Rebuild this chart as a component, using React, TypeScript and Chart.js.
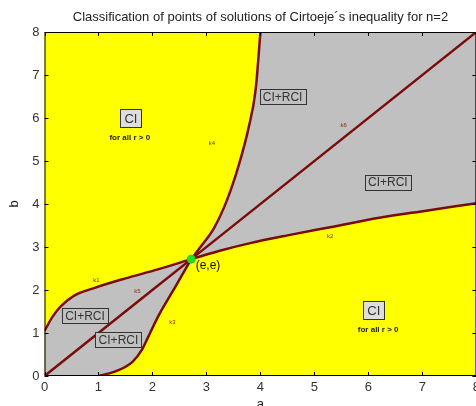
import React, { useEffect, useRef } from "react";
import { Chart, registerables } from "chart.js";

Chart.register(...registerables);

// ---- data (a, b) ----
const k1A = [0, 0.15, 0.3, 0.55, 0.93, 1.5, 2.1, 2.718];
const k1B = [1.05, 1.38, 1.62, 1.87, 2.05, 2.27, 2.48, 2.718];

const k2A = [2.718, 3.3, 3.81, 4.5, 5.29, 6.2, 7.1, 8];
const k2B = [2.718, 2.93, 3.09, 3.27, 3.46, 3.68, 3.85, 4.02];

const k3A = [1.0, 1.3, 1.63, 1.8, 1.91, 2.12, 2.37, 2.55, 2.718];
const k3B = [0, 0.1, 0.33, 0.6, 0.88, 1.42, 1.96, 2.35, 2.718];

const k4A = [2.718, 2.92, 3.14, 3.38, 3.6, 3.78, 3.91, 4.0];
const k4B = [2.718, 3.05, 3.44, 4.09, 4.91, 5.77, 6.65, 8.0];

const diagA = [0, 2.718, 8];
const diagB = [0, 2.718, 8];

const eePointA = [2.718];
const eePointB = [2.718];

const TITLE = "Classification of points of solutions of Cirtoeje\u00b4s inequality for n=2";

// boxed region labels
const boxTexts = ["CI", "CI+RCI", "CI+RCI", "CI", "CI+RCI", "CI+RCI"];
const boxA = [1.6, 4.41, 6.36, 6.1, 0.75, 1.37];
const boxB = [6.0, 6.49, 4.51, 1.53, 1.41, 0.84];

// "for all r > 0" notes
const noteTexts = ["for all r > 0", "for all r > 0"];
const noteA = [1.58, 6.18];
const noteB = [5.53, 1.07];

// curve names
const curveNames = ["k1", "k2", "k3", "k4", "k5", "k6"];
const curveNameA = [0.96, 5.29, 2.37, 3.1, 1.72, 5.54];
const curveNameB = [2.22, 3.24, 1.24, 5.41, 1.98, 5.82];

const eeLabel = "(e,e)";
const eeLabelA = [2.8];
const eeLabelB = [2.56];

const YELLOW = "#ffff00";
const GREY = "#c0c0c0";
const MAROON = "#7a0c0c";
const FONT = "'Liberation Sans', Arial, sans-serif";

const pts = (xs: number[], ys: number[]) => xs.map((x, i) => ({ x, y: ys[i] }));

const lineOf = (chart: any, label: string) => {
  const idx = chart.data.datasets.findIndex((d: any) => d.label === label);
  const line = chart.getDatasetMeta(idx).dataset;
  line.updateControlPoints(chart.chartArea, "x");
  return line;
};

const overlay = {
  id: "overlay",
  beforeDraw(chart: any) {
    const { ctx, chartArea: ca } = chart;
    ctx.save();
    ctx.fillStyle = YELLOW;
    ctx.fillRect(ca.left, ca.top, ca.right - ca.left, ca.bottom - ca.top);
    ctx.restore();
  },
  beforeDatasetsDraw(chart: any) {
    const { ctx, chartArea: ca, scales } = chart;
    const xs = scales.x;
    const ys = scales.y;
    const k1 = lineOf(chart, "k1");
    const k2 = lineOf(chart, "k2");
    const k3 = lineOf(chart, "k3");
    const k4 = lineOf(chart, "k4");
    const xE = xs.getPixelForValue(k2A[0]);
    const x0 = xs.getPixelForValue(0);
    const x8 = xs.getPixelForValue(8);
    const xK3 = xs.getPixelForValue(k3A[0]);

    // upper grey region: above k2 and right of k4
    ctx.save();
    ctx.beginPath();
    k2.path(ctx);
    ctx.lineTo(x8, ca.top - 2);
    ctx.lineTo(xE, ca.top - 2);
    ctx.closePath();
    ctx.clip();
    ctx.beginPath();
    k4.path(ctx);
    ctx.lineTo(x8 + 2, ca.top - 2);
    ctx.lineTo(x8 + 2, ca.bottom);
    ctx.lineTo(xE, ca.bottom);
    ctx.closePath();
    ctx.clip();
    ctx.fillStyle = GREY;
    ctx.fillRect(ca.left, ca.top, ca.right - ca.left, ca.bottom - ca.top);
    ctx.restore();

    // lower grey region: below k1 and left of k3
    ctx.save();
    ctx.beginPath();
    k1.path(ctx);
    ctx.lineTo(xE, ca.bottom + 2);
    ctx.lineTo(x0 - 2, ca.bottom + 2);
    ctx.lineTo(x0 - 2, ys.getPixelForValue(k1B[0]));
    ctx.closePath();
    ctx.clip();
    ctx.beginPath();
    k3.path(ctx);
    ctx.lineTo(xE, ca.top);
    ctx.lineTo(x0 - 2, ca.top);
    ctx.lineTo(x0 - 2, ca.bottom + 2);
    ctx.lineTo(xK3, ca.bottom + 2);
    ctx.closePath();
    ctx.clip();
    ctx.fillStyle = GREY;
    ctx.fillRect(ca.left, ca.top, ca.right - ca.left, ca.bottom - ca.top);
    ctx.restore();
  },
  afterDatasetsDraw(chart: any) {
    const { ctx, chartArea: ca, scales } = chart;
    const xs = scales.x;
    const ys = scales.y;
    ctx.save();

    // curve names
    ctx.font = "6px " + FONT;
    ctx.fillStyle = "#8a2a00";
    ctx.textAlign = "center";
    ctx.textBaseline = "middle";
    curveNames.forEach((t, i) => {
      ctx.fillText(t, xs.getPixelForValue(curveNameA[i]), ys.getPixelForValue(curveNameB[i]));
    });

    // boxed labels
    boxTexts.forEach((t, i) => {
      const cx = xs.getPixelForValue(boxA[i]);
      const cy = ys.getPixelForValue(boxB[i]);
      const isCI = t === "CI";
      ctx.font = (isCI ? "13px " : "12px ") + FONT;
      const w = Math.round(ctx.measureText(t).width + (isCI ? 8 : 6));
      const h = isCI ? 18 : 15;
      const left = Math.round(cx - w / 2) + 0.5;
      const top = Math.round(cy - h / 2) + 0.5;
      ctx.fillStyle = isCI ? "#dedede" : GREY;
      ctx.fillRect(left, top, w, h);
      ctx.strokeStyle = "#333";
      ctx.lineWidth = 1;
      ctx.strokeRect(left, top, w, h);
      ctx.fillStyle = "#333";
      ctx.textAlign = "center";
      ctx.textBaseline = "middle";
      ctx.fillText(t, cx, cy + 1);
    });

    // notes
    ctx.font = "bold 8px " + FONT;
    ctx.fillStyle = "#222";
    noteTexts.forEach((t, i) => {
      ctx.fillText(t, xs.getPixelForValue(noteA[i]), ys.getPixelForValue(noteB[i]));
    });

    // (e,e)
    ctx.font = "12px " + FONT;
    ctx.fillStyle = "#111";
    ctx.textAlign = "left";
    ctx.fillText(eeLabel, xs.getPixelForValue(eeLabelA[0]), ys.getPixelForValue(eeLabelB[0]));

    // frame and inward ticks
    ctx.strokeStyle = "#000";
    ctx.lineWidth = 1;
    ctx.beginPath();
    ctx.rect(ca.left + 0.5, ca.top + 0.5, ca.right - ca.left - 1, ca.bottom - ca.top - 1);
    xs.ticks.forEach((t: any) => {
      const px = Math.round(xs.getPixelForValue(t.value)) + 0.5;
      ctx.moveTo(px, ca.bottom);
      ctx.lineTo(px, ca.bottom - 4);
      ctx.moveTo(px, ca.top);
      ctx.lineTo(px, ca.top + 4);
    });
    ys.ticks.forEach((t: any) => {
      const py = Math.round(ys.getPixelForValue(t.value)) + 0.5;
      ctx.moveTo(ca.left, py);
      ctx.lineTo(ca.left + 4, py);
      ctx.moveTo(ca.right, py);
      ctx.lineTo(ca.right - 4, py);
    });
    ctx.stroke();
    ctx.restore();
  },
};

export default function App() {
  const ref = useRef<HTMLCanvasElement | null>(null);

  useEffect(() => {
    const canvas = ref.current;
    if (!canvas) return;
    const lineDs = (label: string, xs: number[], ys: number[]) => ({
      label,
      data: pts(xs, ys),
      borderColor: MAROON,
      borderWidth: 2.5,
      pointRadius: 0,
      cubicInterpolationMode: "monotone",
      fill: false,
    });
    const chart = new Chart(canvas, {
      type: "line",
      data: {
        datasets: [
          {
            label: "(e,e)",
            data: pts(eePointA, eePointB),
            showLine: false,
            pointRadius: 4,
            pointBackgroundColor: "#22dd22",
            pointBorderColor: "#22cc22",
            borderColor: "#22cc22",
            fill: false,
          } as any,
          lineDs("k5-k6", diagA, diagB),
          lineDs("k4", k4A, k4B),
          lineDs("k3", k3A, k3B),
          lineDs("k2", k2A, k2B),
          lineDs("k1", k1A, k1B),
        ],
      },
      plugins: [overlay],
      options: {
        responsive: false,
        animation: false,
        events: [],
        layout: { padding: { top: 0, left: 0, right: 5, bottom: 0 } },
        plugins: {
          legend: { display: false },
          tooltip: { enabled: false },
          title: {
            display: true,
            fullSize: false,
            text: TITLE,
            color: "#222",
            font: { family: FONT, size: 13, weight: "normal" },
            padding: { top: 9.7, bottom: 6.7 },
          },
        },
        scales: {
          x: {
            type: "linear",
            min: 0,
            max: 8,
            grid: { display: false, drawTicks: false },
            border: { display: false },
            ticks: {
              stepSize: 1,
              padding: 4,
              color: "#333",
              font: { family: FONT, size: 13 },
            },
            title: {
              display: true,
              text: "a",
              color: "#222",
              font: { family: FONT, size: 13 },
              padding: { top: 0, bottom: 0 },
            },
            afterFit: (s: any) => {
              s.height = 36;
            },
          },
          y: {
            type: "linear",
            min: 0,
            max: 8,
            grid: { display: false, drawTicks: false },
            border: { display: false },
            ticks: {
              stepSize: 1,
              padding: 5,
              color: "#333",
              font: { family: FONT, size: 13 },
            },
            title: {
              display: true,
              text: "b",
              color: "#222",
              font: { family: FONT, size: 13 },
              padding: { top: 7, bottom: 0 },
            },
            afterFit: (s: any) => {
              s.width = 44.5;
            },
          },
        },
      } as any,
    });
    return () => chart.destroy();
  }, []);

  return (
    <div
      style={{
        position: "fixed",
        left: 0,
        top: 0,
        width: 476,
        height: 406,
        overflow: "hidden",
        background: "#fff",
      }}
    >
      <canvas ref={ref} width={484} height={412} style={{ display: "block", width: 484, height: 412 }} />
    </div>
  );
}
